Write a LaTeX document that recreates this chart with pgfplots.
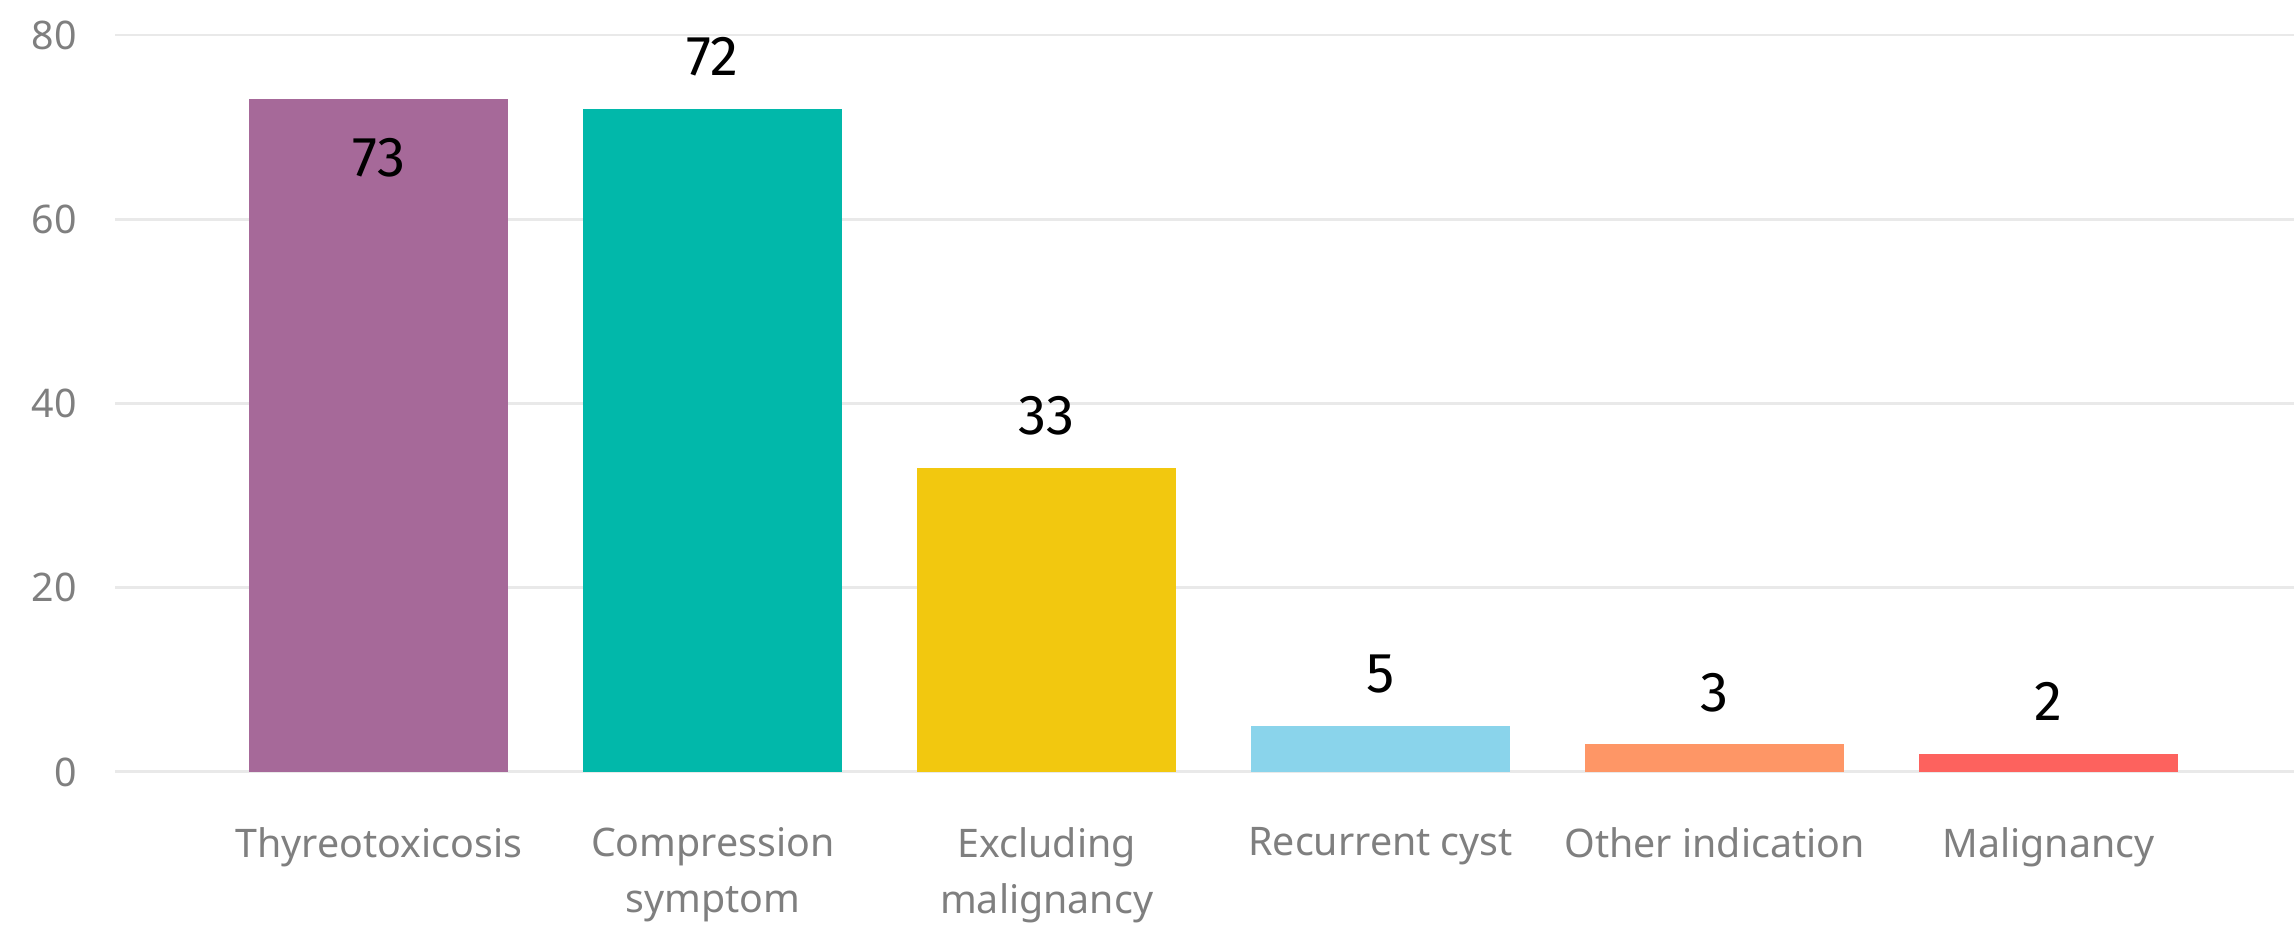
\documentclass[border=0pt]{standalone}
\usepackage{fontspec}
\setmainfont{Noto Sans}
\newfontfamily\valfont{Fira Sans}
\usepackage{pgfplots}
\pgfplotsset{compat=1.18}
\definecolor{c1}{HTML}{A66999}
\definecolor{c2}{HTML}{01B8AA}
\definecolor{c3}{HTML}{F2C80F}
\definecolor{c4}{HTML}{8AD4EB}
\definecolor{c5}{HTML}{FE9666}
\definecolor{c6}{HTML}{FD625E}
\definecolor{ticgray}{HTML}{7F7F7F}
\definecolor{gridgray}{HTML}{E9E9E9}
\begin{document}
\begin{tikzpicture}
\useasboundingbox (0,0) rectangle (22.94cm,9.30cm);
\begin{axis}[
  at={(1.15cm,1.58cm)}, anchor=south west,
  scale only axis, width=21.79cm, height=7.37cm,
  xmin=-0.79, xmax=5.735, ymin=0, ymax=80,
  ytick={0,20,40,60,80},
  xtick={0,1,2,3,4,5},
  xticklabels={Thyreotoxicosis,{Compression\\symptom},{Excluding\\malignancy},Recurrent cyst,Other indication,Malignancy},
  ymajorgrids, grid style={color=gridgray, line width=0.85pt},
  axis line style={draw=none},
  major tick length=0pt,
  /pgf/number format/assume math mode=true,
  tick label style={text=ticgray, font=\fontsize{11.2}{16}\selectfont},
  xticklabel style={align=center, yshift=-4.3mm},
  yticklabel style={xshift=-2.6mm},
  ybar, bar width=2.59cm, bar shift=0pt,
  clip=false,
  nodes near coords,
  nodes near coords style={font=\valfont\fontsize{16}{16}\selectfont, text=black, anchor=center, yshift=5.2mm},
  every axis plot/.append style={draw=none},
]
\addplot[fill=c1, nodes near coords style={yshift=-11mm}] coordinates {(0,73)};
\addplot[fill=c2] coordinates {(1,72)};
\addplot[fill=c3] coordinates {(2,33)};
\addplot[fill=c4] coordinates {(3,5)};
\addplot[fill=c5] coordinates {(4,3)};
\addplot[fill=c6] coordinates {(5,2)};
\end{axis}
\end{tikzpicture}
\end{document}
